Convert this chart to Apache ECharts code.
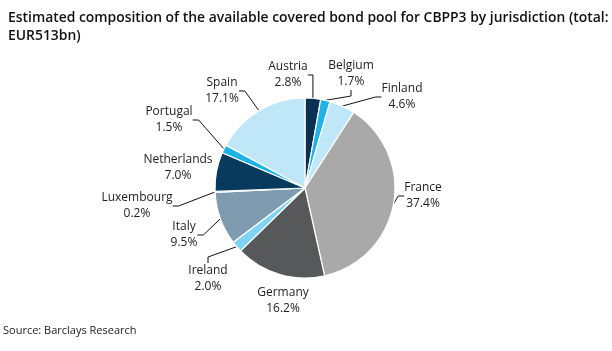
<!DOCTYPE html>
<html><head><meta charset="utf-8">
<script src="https://cdn.jsdelivr.net/npm/echarts@6/dist/echarts.min.js"></script>
<style>html,body{margin:0;padding:0;background:#fff}#c{width:612px;height:351px}</style>
</head><body><div id="c"></div>
<script>
const categories = ['Austria','Belgium','Finland','France','Germany','Ireland','Italy','Luxembourg','Netherlands','Portugal','Spain'];
const shares = [2.8,1.7,4.6,37.4,16.2,2.0,9.5,0.2,7.0,1.5,17.1];
const colors = ['#0b3152','#1eb2e6','#c0e7f7','#a9a9a9','#57585a','#7fd3f3','#7e9bb0','#7e9bb0','#083a5d','#1eb2e6','#c0e7f7'];
// label anchor positions (layout only)
const labelPos = [[288,75],[351,74],[402,97],[423,196],[283,301],[208,279],[184,235],[137,206],[178,168],[169,120],[222,91]];
const showLine = [true,true,true,true,false,true,true,true,false,true,true];

const chart = echarts.init(document.getElementById('c'));
chart.setOption({
  animation:false,
  title:{text:'Estimated composition of the available covered bond pool for CBPP3 by jurisdiction (total:\nEUR513bn)',left:3,top:4,
    textStyle:{fontFamily:'Open Sans',fontSize:13.9,fontWeight:600,color:'#111',lineHeight:18}},
  graphic:[{type:'text',left:3,top:325,style:{text:'Source: Barclays Research',font:'11px "Open Sans"',fill:'#222'}}],
  series:[{
    type:'pie',center:[305,188],radius:90,startAngle:90,clockwise:true,
    itemStyle:{borderColor:'#fff',borderWidth:1.2},
    data:categories.map((n,i)=>({name:n,value:shares[i],itemStyle:{color:colors[i]},labelLine:{show:showLine[i]}})),
    label:{show:true,formatter:p=>p.name+'\n'+p.value.toFixed(1)+'%',fontFamily:'Open Sans',fontSize:12,color:'#222',lineHeight:16,align:'center'},
    labelLine:{show:true,length:8,length2:6,lineStyle:{color:'#111',width:1}},
    labelLayout:function(p){const q=labelPos[p.dataIndex];return {x:q[0],y:q[1],align:'center',verticalAlign:'middle'};}
  }]
});
</script></body></html>
